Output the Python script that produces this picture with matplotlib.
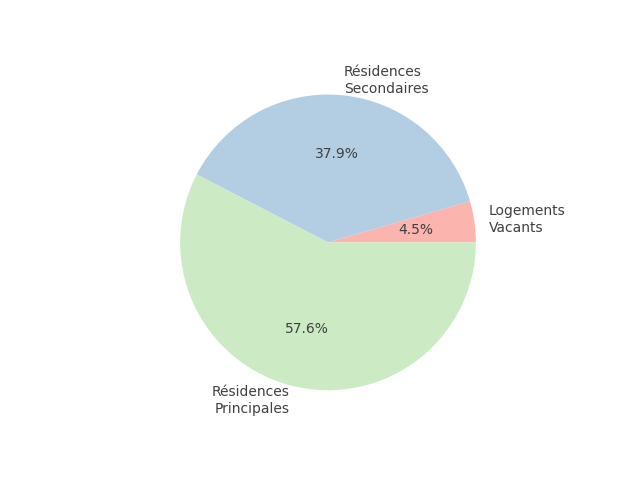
import matplotlib
matplotlib.use("Agg")
import matplotlib.pyplot as plt

# housing split
labels = ["Logements\nVacants", "Résidences\nSecondaires", "Résidences\nPrincipales"]
shares = [4.5, 37.9, 57.6]
colors = ["#fbb4ae", "#b3cde3", "#ccebc5"]

fig, ax = plt.subplots(figsize=(6.4, 4.8), dpi=100)
wedges, texts, autotexts = ax.pie(shares, labels=labels, colors=colors,
                                  autopct="%1.1f%%",
                                  textprops={"color": "#404040"})
fig.savefig("out.png")
